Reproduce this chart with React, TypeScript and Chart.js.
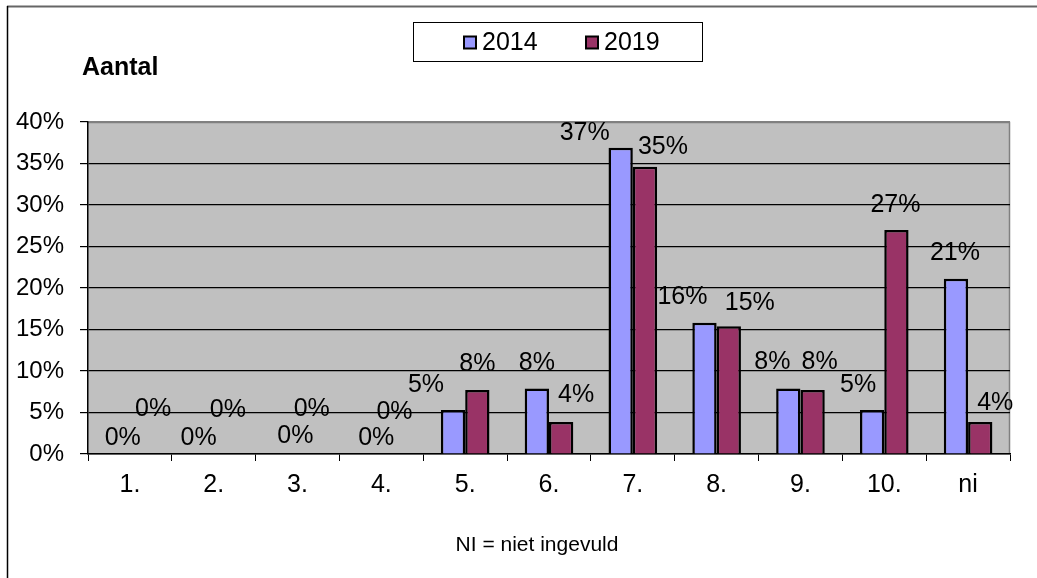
import React, { useEffect, useRef } from "react";
import { Chart, registerables } from "chart.js";

Chart.register(...registerables);

const CATEGORIES = ["1.", "2.", "3.", "4.", "5.", "6.", "7.", "8.", "9.", "10.", "ni"];
const SERIES_NAMES = ["2014", "2019"];
const VALUES_2014 = [0, 0, 0, 0, 5.3, 7.9, 36.9, 15.8, 7.9, 5.3, 21.1];
const VALUES_2019 = [0, 0, 0, 0, 7.7, 3.85, 34.6, 15.4, 7.7, 27.0, 3.85];
const Y_TICKS = [0, 5, 10, 15, 20, 25, 30, 35, 40];
const TITLE = "Aantal";
const FOOTNOTE = "NI = niet ingevuld";

// label placement offsets (style only), relative to bar top-centre
const LABEL_DX = [
  [5, -3, 10, 7, -27, 0, -36, -22, -16, -14, -1],
  [11, 2, 2, 1, 0, 15, 18, 21, 7, -1, 15],
];
const LABEL_DY = [
  [-16, -16, -18, -16, -25, -25, -15, -26, -26, -25, -26],
  [-45, -44, -45, -42, -26, -27, -20, -23, -28, -25, -19],
];

const FONT = "'Liberation Sans', Arial, sans-serif";
const COLORS = ["#9999FF", "#993366"];

const decorPlugin = {
  id: "decor",
  beforeDraw(chart: any) {
    const { ctx, chartArea: a } = chart;
    ctx.save();
    ctx.fillStyle = "#ffffff";
    ctx.fillRect(0, 0, chart.width, chart.height);
    ctx.fillStyle = "#C0C0C0";
    ctx.fillRect(a.left, a.top, a.right - a.left, a.bottom - a.top);
    ctx.strokeStyle = "#808080";
    ctx.lineWidth = 1.5;
    ctx.beginPath();
    ctx.moveTo(a.left, a.top + 0.5);
    ctx.lineTo(a.right - 0.5, a.top + 0.5);
    ctx.lineTo(a.right - 0.5, a.bottom);
    ctx.stroke();
    ctx.restore();
  },
  afterDatasetsDraw(chart: any) {
    const { ctx } = chart;
    ctx.save();
    ctx.font = `25px ${FONT}`;
    ctx.fillStyle = "#000";
    ctx.textAlign = "center";
    ctx.textBaseline = "middle";
    chart.data.datasets.forEach((ds: any, di: number) => {
      const meta = chart.getDatasetMeta(di);
      meta.data.forEach((el: any, i: number) => {
        const v = ds.data[i];
        const txt = Math.round(v) + "%";
        ctx.fillText(txt, el.x + LABEL_DX[di][i], el.y + LABEL_DY[di][i]);
      });
    });
    ctx.restore();
  },
  afterDraw(chart: any) {
    const { ctx } = chart;
    ctx.save();
    // outer frame
    ctx.strokeStyle = "#666";
    ctx.lineWidth = 2;
    ctx.beginPath();
    ctx.moveTo(7, 6.5);
    ctx.lineTo(chart.width, 6.5);
    ctx.stroke();
    ctx.strokeStyle = "#000";
    ctx.lineWidth = 1.5;
    ctx.beginPath();
    ctx.moveTo(7.5, 6);
    ctx.lineTo(7.5, chart.height);
    ctx.stroke();

    // title
    ctx.fillStyle = "#000";
    ctx.font = `bold 25px ${FONT}`;
    ctx.textAlign = "left";
    ctx.textBaseline = "alphabetic";
    ctx.fillText(TITLE, 82, 75);

    // legend
    const lx = 413, ly = 22, lw = 289, lh = 39;
    ctx.strokeStyle = "#000";
    ctx.lineWidth = 1;
    ctx.strokeRect(lx + 0.5, ly + 0.5, lw, lh);
    const cy = ly + lh / 2 + 1;
    const itemX = [464, 586];
    ctx.font = `25px ${FONT}`;
    ctx.textBaseline = "middle";
    chart.data.datasets.forEach((ds: any, di: number) => {
      const x = itemX[di];
      ctx.fillStyle = ds.backgroundColor;
      ctx.fillRect(x, cy - 6, 12, 12);
      ctx.strokeStyle = "#000";
      ctx.lineWidth = 2;
      ctx.strokeRect(x, cy - 6, 12, 12);
      ctx.fillStyle = "#000";
      ctx.fillText(ds.label, x + 18, cy + 1);
    });

    // footnote
    ctx.font = `21px ${FONT}`;
    ctx.textAlign = "center";
    ctx.textBaseline = "alphabetic";
    ctx.fillText(FOOTNOTE, 537, 551);
    ctx.restore();
  },
};

export default function App() {
  const ref = useRef<HTMLCanvasElement>(null);
  useEffect(() => {
    if (!ref.current) return;
    const chart = new Chart(ref.current, {
      type: "bar",
      data: {
        labels: CATEGORIES,
        datasets: [
          {
            label: SERIES_NAMES[0],
            data: VALUES_2014,
            backgroundColor: COLORS[0],
            borderColor: "#000",
            borderWidth: 2.5,
            categoryPercentage: 0.58,
            barPercentage: 1,
          },
          {
            label: SERIES_NAMES[1],
            data: VALUES_2019,
            backgroundColor: COLORS[1],
            borderColor: "#000",
            borderWidth: 2.5,
            categoryPercentage: 0.58,
            barPercentage: 1,
          },
        ],
      },
      options: {
        responsive: false,
        animation: false,
        devicePixelRatio: 1,
        layout: { padding: { top: 122, right: 27, left: 0, bottom: 0 } },
        plugins: {
          legend: { display: false },
          title: { display: false },
          tooltip: { enabled: false },
        },
        scales: {
          x: {
            afterFit: (s: any) => {
              s.height = 124;
            },
            grid: {
              drawOnChartArea: false,
              drawTicks: true,
              tickLength: 7,
              color: "#000",
              offset: true,
            },
            border: { color: "#000", width: 1.5 },
            ticks: {
              color: "#000",
              font: { family: FONT, size: 25 },
              padding: 9,
            },
          },
          y: {
            min: 0,
            max: 40,
            afterFit: (s: any) => {
              s.width = 88;
            },
            afterBuildTicks: (s: any) => {
              s.ticks = Y_TICKS.map((v) => ({ value: v }));
            },
            grid: {
              color: (c: any) => (c.tick && c.tick.value === 40 ? "#808080" : "#000"),
              tickColor: "#000",
              lineWidth: 1.2,
              tickLength: 8,
            },
            border: { color: "#000", width: 1.5 },
            ticks: {
              color: "#000",
              font: { family: FONT, size: 24 },
              padding: 16,
              callback: (v: any) => v + "%",
            },
          },
        },
      },
      plugins: [decorPlugin],
    });
    return () => chart.destroy();
  }, []);
  return (
    <div style={{ position: "absolute", left: 0, top: 0, width: 1037, height: 578 }}>
      <canvas ref={ref} width={1037} height={578} style={{ display: "block" }} />
    </div>
  );
}
